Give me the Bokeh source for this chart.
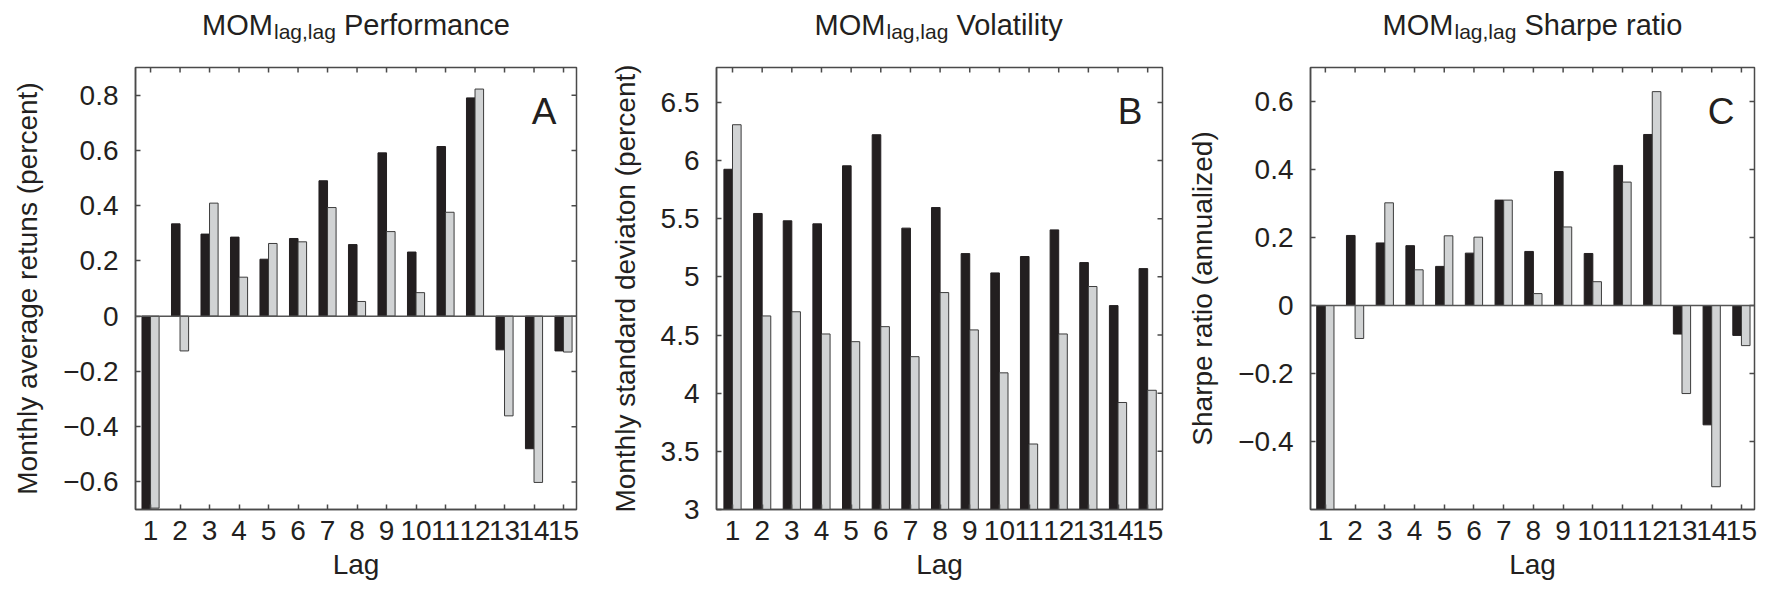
import math
from bokeh.plotting import figure
from bokeh.models import (ColumnDataSource, Range1d, FixedTicker, Label, Span)
from bokeh.layouts import row, column
from bokeh.transform import dodge
from bokeh.core.properties import value
from bokeh.embed import file_html
from bokeh.resources import INLINE

# ---------------- data ----------------
lags = list(range(1, 16))
lag_labels = [str(v) for v in lags]

perf_black = [-0.72, 0.334, 0.297, 0.286, 0.206, 0.281, 0.490, 0.259, 0.591, 0.232, 0.614, 0.790, -0.122, -0.480, -0.126]
perf_gray = [-0.695, -0.126, 0.409, 0.141, 0.263, 0.269, 0.393, 0.053, 0.306, 0.085, 0.376, 0.822, -0.361, -0.602, -0.130]

vol_black = [5.925, 5.545, 5.482, 5.456, 5.955, 6.222, 5.419, 5.596, 5.200, 5.034, 5.175, 5.404, 5.123, 4.753, 5.071]
vol_gray = [6.308, 4.664, 4.700, 4.509, 4.443, 4.572, 4.314, 4.865, 4.544, 4.175, 3.563, 4.509, 4.917, 3.920, 4.025]

sharpe_black = [-0.68, 0.206, 0.184, 0.176, 0.115, 0.154, 0.310, 0.159, 0.394, 0.153, 0.412, 0.503, -0.084, -0.351, -0.088]
sharpe_gray = [-0.65, -0.097, 0.302, 0.105, 0.205, 0.201, 0.310, 0.035, 0.231, 0.070, 0.363, 0.629, -0.259, -0.533, -0.118]

perf_ticks = [-0.6, -0.4, -0.2, 0, 0.2, 0.4, 0.6, 0.8]
perf_tick_labels = ["\u22120.6", "\u22120.4", "\u22120.2", "0", "0.2", "0.4", "0.6", "0.8"]
vol_ticks = [3, 3.5, 4, 4.5, 5, 5.5, 6, 6.5]
vol_tick_labels = ["3", "3.5", "4", "4.5", "5", "5.5", "6", "6.5"]
sharpe_ticks = [-0.4, -0.2, 0, 0.2, 0.4, 0.6]
sharpe_tick_labels = ["\u22120.4", "\u22120.2", "0", "0.2", "0.4", "0.6"]

title_main = "MOM"
title_sub = "lag,lag"
titles_rest = ["Performance", "Volatility", "Sharpe ratio"]
ylabels = ["Monthly average retuns (percent)", "Monthly standard deviaton (percent)", "Sharpe ratio (annualized)"]
xlabel = "Lag"
letters = ["A", "B", "C"]

# ---------------- style ----------------
FONT = "Liberation Sans"
TXT = "#231f20"
FRAME = "#4a4a4a"
BLACK = "#231f20"
GRAY = "#d1d3d4"
BAR_W = 0.29
TITLE_H = 63
FRAME_H = 442
TOP_B = 4
BOT_B = 80
TS, SS = 29, 21

WIDTHS = {'M': .833, 'O': .778, 'l': .222, 'a': .556, 'g': .556, ',': .278, ' ': .278,
          'P': .667, 'e': .556, 'r': .333, 'f': .278, 'o': .556, 'm': .833, 'n': .556,
          'c': .5, 'V': .667, 'i': .222, 't': .278, 'y': .5, 'S': .667, 'h': .556, 'p': .556}


def tw(s, size):
    return sum(WIDTHS.get(ch, .556) for ch in s) * size


def make_title(rest, bl, fw, br):
    # a strip above the panel whose frame lines up with the panel's frame (x in frame pixels)
    t = figure(x_range=Range1d(0, fw), y_range=Range1d(0, TITLE_H),
               frame_width=fw, frame_height=TITLE_H,
               min_border_left=bl, min_border_right=br, min_border_top=0, min_border_bottom=0,
               x_axis_type=None, y_axis_type=None,
               output_backend="svg", toolbar_location=None, tools="")
    t.grid.visible = False
    t.outline_line_color = None
    w_main = tw(title_main, TS)
    w_sub = tw(title_sub, SS)
    w_space = tw(" ", TS)
    w_rest = tw(rest, TS)
    total = w_main + 1 + w_sub + w_space + w_rest
    x0 = fw / 2 - total / 2
    common = dict(text_font=value(FONT), text_color=TXT, text_baseline="alphabetic", text_align="left")
    t.text(x=[x0], y=[TITLE_H - 24.5], text=[title_main], text_font_size=f"{TS}px", **common)
    t.text(x=[x0 + w_main + 1], y=[TITLE_H - 30.5], text=[title_sub], text_font_size=f"{SS}px", **common)
    t.text(x=[x0 + w_main + 1 + w_sub + w_space], y=[TITLE_H - 24.5], text=[rest],
           text_font_size=f"{TS}px", **common)
    return t


def make_panel(black, gray, xr, yr, ticks, tick_labels, ylabel, letter, fw, bl, br, zero_line):
    p = figure(x_range=Range1d(*xr), y_range=Range1d(*yr),
               frame_width=fw, frame_height=FRAME_H,
               min_border_left=bl, min_border_right=br, min_border_top=TOP_B, min_border_bottom=BOT_B,
               output_backend="svg", toolbar_location=None, tools="")
    p.grid.visible = False
    p.outline_line_color = FRAME
    p.outline_line_width = 1.5

    src = ColumnDataSource(dict(lag=lags, black=black, gray=gray))
    p.vbar(x=dodge('lag', -BAR_W / 2, range=p.x_range), top='black', bottom=0, width=BAR_W,
           source=src, fill_color=BLACK, line_color=BLACK, line_width=1)
    p.vbar(x=dodge('lag', BAR_W / 2, range=p.x_range), top='gray', bottom=0, width=BAR_W,
           source=src, fill_color=GRAY, line_color="#3c3c3c", line_width=1)
    if zero_line:
        p.add_layout(Span(location=0, dimension='width', line_color="#555555", line_width=1.5))

    # mirrored inside ticks on the top and right edges of the box
    p.scatter(x=lags, y=[yr[1]] * len(lags), marker="dash", angle=math.pi / 2, size=10,
              line_color=FRAME, line_width=1.5)
    p.scatter(x=[xr[1]] * len(ticks), y=ticks, marker="dash", angle=0, size=10,
              line_color=FRAME, line_width=1.5)

    for ax in (p.xaxis[0], p.yaxis[0]):
        ax.axis_line_color = FRAME
        ax.axis_line_width = 1.5
        ax.major_tick_line_color = FRAME
        ax.major_tick_line_width = 1.5
        ax.major_tick_in = 5
        ax.major_tick_out = 0
        ax.minor_tick_line_color = None
        ax.major_label_text_font = FONT
        ax.major_label_text_font_size = "28px"
        ax.major_label_text_color = TXT
        ax.axis_label_text_font = FONT
        ax.axis_label_text_font_size = "28px"
        ax.axis_label_text_font_style = "normal"
        ax.axis_label_text_color = TXT

    p.xaxis[0].ticker = FixedTicker(ticks=lags)
    p.xaxis[0].major_label_overrides = {v: s for v, s in zip(lags, lag_labels)}
    p.xaxis[0].axis_label = xlabel
    p.xaxis[0].major_label_standoff = 11
    p.xaxis[0].axis_label_standoff = 6

    p.yaxis[0].ticker = FixedTicker(ticks=ticks)
    p.yaxis[0].major_label_overrides = {v: s for v, s in zip(ticks, tick_labels)}
    p.yaxis[0].axis_label = ylabel
    p.yaxis[0].major_label_standoff = 17
    p.yaxis[0].axis_label_standoff = 17

    pxx = fw / (xr[1] - xr[0])
    pxy = FRAME_H / (yr[1] - yr[0])
    p.add_layout(Label(x=xr[1] - 20 / pxx, y=yr[1] - 44 / pxy, text=letter, text_font=FONT,
                       text_font_size="37px", text_color=TXT, text_align="right",
                       text_baseline="alphabetic"))
    return p


specs = [
    (perf_black, perf_gray, (0.49, 15.44), (-0.7, 0.9), perf_ticks, perf_tick_labels, 441, 135, 24, True),
    (vol_black, vol_gray, (0.46, 15.5), (3.0, 6.8), vol_ticks, vol_tick_labels, 446, 116, 18, False),
    (sharpe_black, sharpe_gray, (0.5, 15.44), (-0.6, 0.7), sharpe_ticks, sharpe_tick_labels, 444, 130, 10, True),
]

cols = []
for i, (bk, gr, xr, yr, tk, tkl, fw, bl, br, zl) in enumerate(specs):
    t = make_title(titles_rest[i], bl, fw, br)
    p = make_panel(bk, gr, xr, yr, tk, tkl, ylabels[i], letters[i], fw, bl, br, zl)
    cols.append(column(t, p))

layout = row(*cols)
open("out.html", "w").write(file_html(layout, INLINE))
